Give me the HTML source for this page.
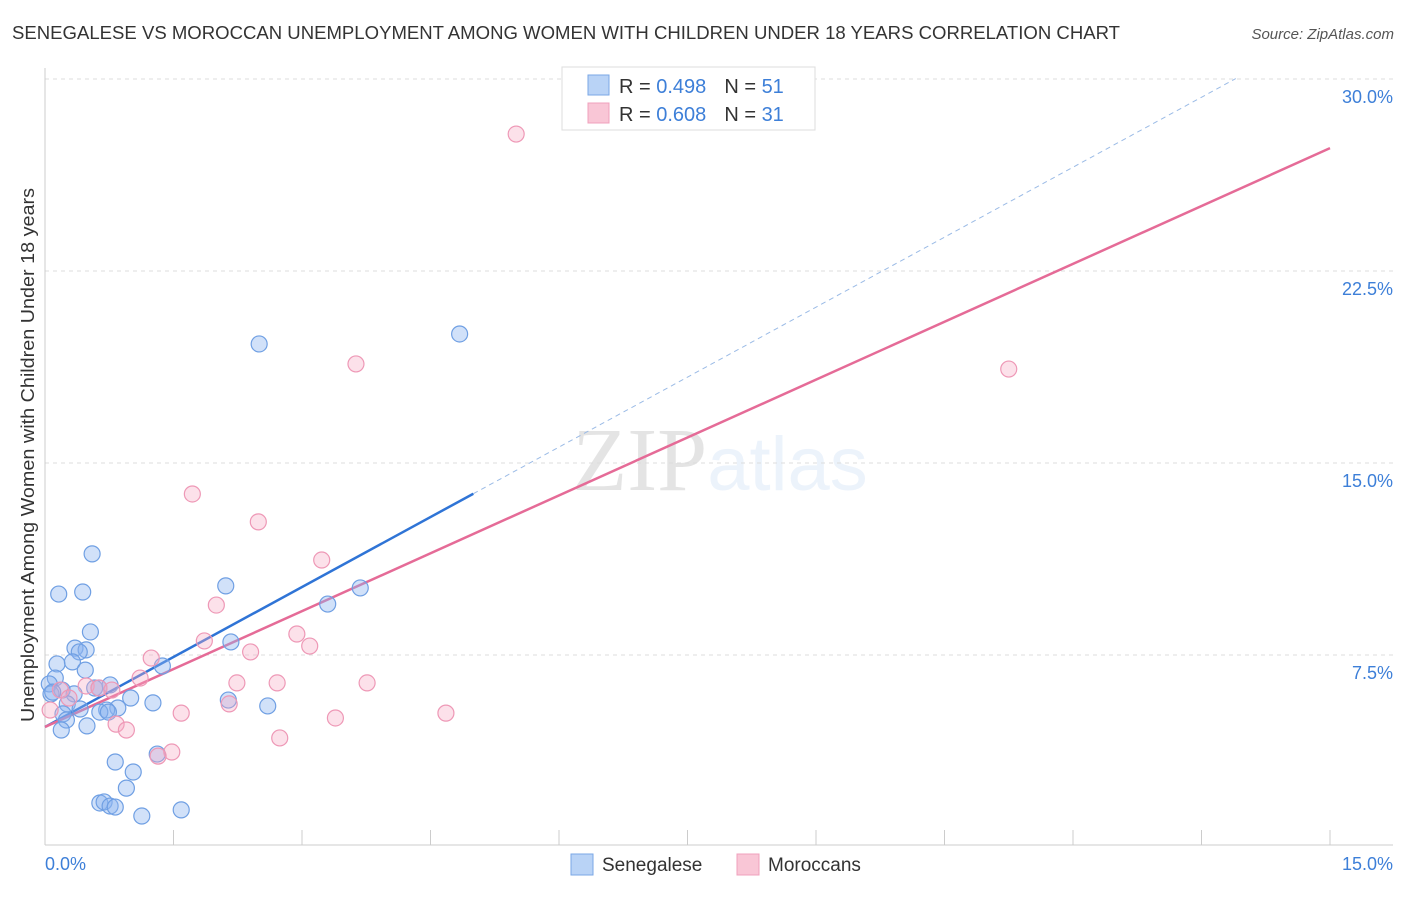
<!DOCTYPE html>
<html><head><meta charset="utf-8"><style>
body{margin:0;background:#fff;font-family:"Liberation Sans",sans-serif}
svg text{font-family:"Liberation Sans",sans-serif}
</style></head><body>
<svg id="chart" width="1406" height="892" xmlns="http://www.w3.org/2000/svg">
<text x="12" y="39" font-size="18" fill="#333" textLength="1108" lengthAdjust="spacingAndGlyphs">SENEGALESE VS MOROCCAN UNEMPLOYMENT AMONG WOMEN WITH CHILDREN UNDER 18 YEARS CORRELATION CHART</text>
<text x="1394" y="39" font-size="15" fill="#555" text-anchor="end" font-style="italic">Source: ZipAtlas.com</text>
<text x="720" y="490" font-size="90" text-anchor="middle" fill="#000" opacity="0.1"><tspan font-family="Liberation Serif">ZIP</tspan><tspan fill="#3d7fd8" opacity="0.9" font-size="76">atlas</tspan></text>
<text transform="translate(34,455) rotate(-90)" font-size="18" fill="#333" text-anchor="middle" textLength="534" lengthAdjust="spacingAndGlyphs">Unemployment Among Women with Children Under 18 years</text>
<g id="grid"></g><g id="lines"></g><g id="pts"></g>
<g>
<rect x="562" y="67" width="253" height="63" fill="#fff" stroke="#ddd"/>
<rect x="588" y="75" width="21" height="20" fill="#b9d3f6" stroke="#7aa7e6"/>
<rect x="588" y="103" width="21" height="20" fill="#f9c6d6" stroke="#f0a0bc"/>
<text x="619" y="93" font-size="20" fill="#333">R = <tspan fill="#3d7fd8">0.498</tspan><tspan dx="18">N = </tspan><tspan fill="#3d7fd8">51</tspan></text>
<text x="619" y="121" font-size="20" fill="#333">R = <tspan fill="#3d7fd8">0.608</tspan><tspan dx="18">N = </tspan><tspan fill="#3d7fd8">31</tspan></text>
</g>
<g>
<rect x="571" y="854" width="22" height="21" fill="#b9d3f6" stroke="#7aa7e6"/>
<text x="602" y="871" font-size="19" fill="#333">Senegalese</text>
<rect x="737" y="854" width="22" height="21" fill="#f9c6d6" stroke="#f0a0bc"/>
<text x="768" y="871" font-size="19" fill="#333">Moroccans</text>
</g>
</svg>
<script>
const blueX=[2.50,4.84,0.55,0.16,0.44,2.11,3.68,3.30,0.53,2.17,0.35,0.48,0.40,0.14,0.32,1.37,0.47,0.12,0.05,0.76,0.58,0.20,0.07,0.34,1.00,2.14,1.26,2.60,0.26,0.85,0.41,0.72,0.64,0.21,0.25,0.49,0.19,1.31,0.82,1.03,0.95,0.64,0.69,0.76,0.82,1.13,1.59,0.63,0.09,0.74];
const blueY=[19.65,20.04,11.45,9.88,9.96,10.20,10.12,9.49,8.40,8.01,7.77,7.70,7.62,7.15,7.23,7.07,6.91,6.60,6.37,6.33,6.21,6.13,5.98,5.98,5.82,5.74,5.63,5.51,5.59,5.43,5.39,5.35,5.27,5.20,4.96,4.73,4.57,3.63,3.32,2.93,2.30,1.72,1.76,1.60,1.56,1.21,1.45,6.21,6.05,5.27];
const pinkX=[5.50,3.63,11.25,1.72,2.49,3.23,2.00,2.94,1.86,3.09,2.40,1.24,1.11,2.24,2.71,3.76,0.48,0.63,0.78,0.18,0.28,2.15,1.59,4.68,3.39,0.06,0.83,0.95,2.74,1.48,1.32];
const pinkY=[27.85,18.87,18.67,13.79,12.70,11.21,9.45,8.32,8.05,7.85,7.62,7.38,6.60,6.41,6.41,6.41,6.29,6.21,6.13,6.13,5.82,5.59,5.23,5.23,5.04,5.35,4.80,4.57,4.26,3.71,3.55];
const yTicks=[7.5,15,22.5,30];
const yTickLabels=["7.5%","15.0%","22.5%","30.0%"];
const blueLine={x0:0,y0:4.69,x1:5.0,y1:13.8,xd:13.9};
const pinkLine={x0:0,y0:4.69,x1:15,y1:27.3};
const NS="http://www.w3.org/2000/svg";
const X=v=>45+v*(1285/15), Y=v=>847-v*25.6;
function mk(t,a,p){const e=document.createElementNS(NS,t);for(const k in a)e.setAttribute(k,a[k]);p.appendChild(e);return e;}
const g=document.getElementById('grid');
yTicks.forEach((t,i)=>{
 const l=mk('line',{x1:45,x2:1393,y1:Y(t),y2:Y(t),stroke:'#ddd','stroke-dasharray':'4,4'},g);
 
 
 const tx=mk('text',{x:1393,y:Y(t)+24,'font-size':18,fill:'#3d7fd8','text-anchor':'end'},g);
 tx.textContent=yTickLabels[i];
 
 
});
const ax=mk('line',{x1:45,x2:1393,y1:845,y2:845,stroke:'#ccc'},g);


const ay=mk('line',{x1:45,x2:45,y1:68,y2:845,stroke:'#ccc'},g);


for(let i=1;i<=10;i++){const t=mk('line',{x1:X(i*1.5),x2:X(i*1.5),y1:830,y2:845,stroke:'#ccc'},g);
 
 }
[["0.0%",45,"start"],["15.0%",1393,"end"]].forEach(a=>{const t=mk('text',{x:a[1],y:870,'font-size':18,fill:'#3d7fd8','text-anchor':a[2]},g);t.textContent=a[0];
 
 });
const p=document.getElementById('pts');
function dots(xs,ys,fill,st,name){xs.forEach((x,i)=>{const c=mk('circle',{cx:X(x),cy:Y(ys[i]),r:8,fill:fill,stroke:st,'stroke-width':1.2},p);
 
 });}
dots(blueX,blueY,'rgba(140,180,240,0.4)','#6f9fe3','senegalese-point');
dots(pinkX,pinkY,'rgba(245,170,195,0.35)','#ee98b6','moroccan-point');
const L=document.getElementById('lines');
const slope=(blueLine.y1-blueLine.y0)/(blueLine.x1-blueLine.x0);
const d=mk('line',{x1:X(blueLine.x1),y1:Y(blueLine.y1),x2:X(blueLine.xd),y2:Y(blueLine.y0+slope*blueLine.xd),stroke:'#9bbbe6','stroke-dasharray':'5,4'},L);


const b=mk('line',{x1:X(blueLine.x0),y1:Y(blueLine.y0),x2:X(blueLine.x1),y2:Y(blueLine.y1),stroke:'#2f74d6','stroke-width':2.5},L);


const pk=mk('line',{x1:X(pinkLine.x0),y1:Y(pinkLine.y0),x2:X(pinkLine.x1),y2:Y(pinkLine.y1),stroke:'#e56b97','stroke-width':2.5},L);


</script>
</body></html>
